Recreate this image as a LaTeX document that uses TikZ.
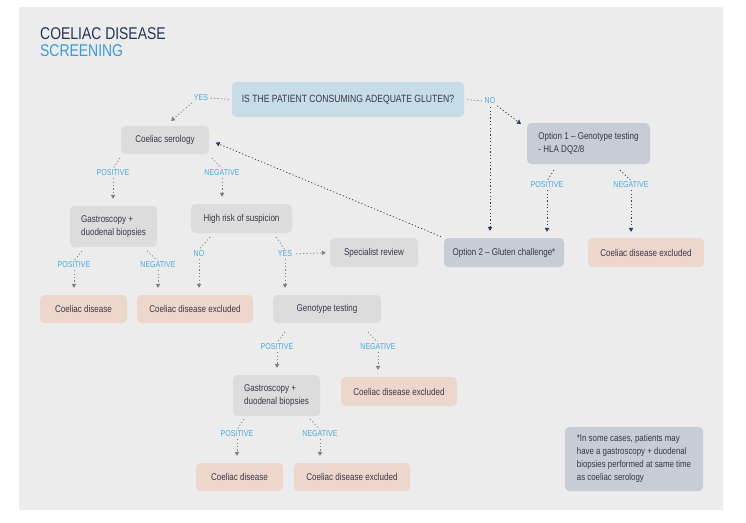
\documentclass[tikz,border=0pt]{standalone}
\usepackage{fontspec}
\setmainfont[FakeStretch=0.82]{Liberation Sans}
\usetikzlibrary{arrows.meta,calc}
\definecolor{panel}{HTML}{ECECEC}
\definecolor{boxgray}{HTML}{DCDCDC}
\definecolor{boxpink}{HTML}{EDD6CC}
\definecolor{boxblue}{HTML}{C6DDE8}
\definecolor{boxslate}{HTML}{C8CCD4}
\definecolor{txt}{HTML}{38384A}
\definecolor{lblue}{HTML}{4AA8DC}
\definecolor{lgray}{HTML}{808089}
\definecolor{navy}{HTML}{2D3C5A}
\definecolor{ttlnavy}{HTML}{253456}
\definecolor{ttlblue}{HTML}{3B9AD9}
\tikzset{
 bx/.style={rounded corners=4.5pt, inner sep=2pt, text=txt, font=\fontsize{9.8}{12.8}\selectfont, align=center},
 gbox/.style={bx, fill=boxgray},
 pbox/.style={bx, fill=boxpink},
 bbox/.style={bx, fill=boxblue},
 sbox/.style={bx, fill=boxslate},
 lab/.style={text=lblue, font=\fontsize{8.6}{10}\selectfont, inner sep=1pt},
 dl/.style={draw=lgray, line width=0.75pt, dash pattern=on 1.2pt off 2.2pt},
 dn/.style={dl, draw=navy},
 tip/.style={-{Triangle[width=4.5pt,length=4pt]}},
}
\begin{document}
\begin{tikzpicture}[x=1pt,y=-1pt]
\useasboundingbox (0,0) rectangle (746,522);
\fill[white] (0,0) rectangle (746,522);
\fill[panel] (19,7) rectangle (723,510);
% title
\node[anchor=base west, inner sep=0, text=ttlnavy, font=\fontsize{17}{20}\selectfont] (t1) at (40,39) {COELIAC DISEASE};
\node[anchor=base west, inner sep=0, text=ttlblue, font=\fontsize{17}{20}\selectfont] (t2) at (40,56) {SCREENING};
% boxes
\node[bbox, minimum width=232pt, minimum height=35pt, font=\fontsize{10.5}{13}\selectfont] (q) at (348,99.5) {IS THE PATIENT CONSUMING ADEQUATE GLUTEN?};
\node[gbox, minimum width=88pt, minimum height=28pt] (ser) at (165,140) {Coeliac serology};
\node[gbox, minimum width=87pt, minimum height=41pt, align=left] (g1) at (113.5,226.5) {Gastroscopy +\\duodenal biopsies};
\node[gbox, minimum width=101pt, minimum height=29pt] (hr) at (241.5,218.5) {High risk of suspicion};
\node[gbox, minimum width=88pt, minimum height=29pt] (sp) at (374,252.5) {Specialist review};
\node[pbox, minimum width=87pt, minimum height=28pt] (cd1) at (83.5,309) {Coeliac disease};
\node[pbox, minimum width=116pt, minimum height=28pt] (cde1) at (195,309) {Coeliac disease excluded};
\node[gbox, minimum width=108pt, minimum height=28pt] (gt) at (327,309) {Genotype testing};
\node[gbox, minimum width=87pt, minimum height=41pt, align=left] (g2) at (276.5,395.5) {Gastroscopy +\\duodenal biopsies};
\node[pbox, minimum width=116pt, minimum height=29pt] (cde2) at (399,391.5) {Coeliac disease excluded};
\node[pbox, minimum width=87pt, minimum height=28pt] (cd2) at (239.5,477) {Coeliac disease};
\node[pbox, minimum width=116pt, minimum height=28pt] (cde3) at (352,477) {Coeliac disease excluded};
\node[sbox, minimum width=123pt, minimum height=41pt, align=left] (o1) at (588.5,143.5) {Option 1 -- Genotype testing\\- HLA DQ2/8};
\node[sbox, minimum width=120pt, minimum height=29pt] (o2) at (504,252.5) {Option 2 -- Gluten challenge*};
\node[pbox, minimum width=116pt, minimum height=29pt] (cde4) at (646,252.5) {Coeliac disease excluded};
\node[sbox, minimum width=138pt, minimum height=64pt, align=left, font=\fontsize{9.6}{13}\selectfont] (fn) at (634,459) {*In some cases, patients may\\have a gastroscopy + duodenal\\biopsies performed at same time\\as coeliac serology};
% labels
\node[lab] (yes0) at (201,98) {YES};
\node[lab] (no0) at (490,101) {NO};
\node[lab] (pos1) at (113,173) {POSITIVE};
\node[lab] (neg1) at (222,173) {NEGATIVE};
\node[lab] (pos2) at (74,265) {POSITIVE};
\node[lab] (neg2) at (158,265) {NEGATIVE};
\node[lab] (no1) at (199,254) {NO};
\node[lab] (yes1) at (285,254) {YES};
\node[lab] (pos3) at (277,347) {POSITIVE};
\node[lab] (neg3) at (378,347) {NEGATIVE};
\node[lab] (pos4) at (237,434) {POSITIVE};
\node[lab] (neg4) at (320,434) {NEGATIVE};
\node[lab] (pos5) at (547,185) {POSITIVE};
\node[lab] (neg5) at (631,185) {NEGATIVE};
% start coordinates
\coordinate (s1a) at (120,158); \coordinate (s1b) at (212,158);
\coordinate (s2a) at (82,251);  \coordinate (s2b) at (147,251);
\coordinate (s3a) at (210,237); \coordinate (s3b) at (276,237);
\coordinate (s4a) at (285,332); \coordinate (s4b) at (368,332);
\coordinate (s5a) at (244,419); \coordinate (s5b) at (310,419);
\coordinate (s6a) at (554,170); \coordinate (s6b) at (620,170);
\coordinate (yesE) at (171,121);
\coordinate (noE) at (521,124);
% top connectors
\draw[dl, shorten <=3pt, shorten >=1pt] (q.west) -- (yes0.east);
\draw[dl, tip, shorten <=1pt] (yes0.south west) -- (yesE);
\draw[dl, shorten <=3pt, shorten >=1pt] (q.east) -- (no0.west);
\draw[dn, tip, shorten <=1pt] (no0.south east) -- (noE);
\draw[dn, tip, shorten <=2pt, shorten >=7pt] (no0.south) -- (no0.south |- o2.north);
\draw[dn, tip, shorten <=3pt, shorten >=7pt] (o2.north west) -- (ser.east);
% branch connectors
\foreach \s/\l/\t in {s1a/pos1/g1, s1b/neg1/hr, s2a/pos2/cd1, s2b/neg2/cde1, s3a/no1/cde1, s3b/yes1/gt, s4a/pos3/g2, s4b/neg3/cde2, s5a/pos4/cd2, s5b/neg4/cde3}{
  \draw[dl, shorten >=1pt] (\s) -- (\l.north);
  \draw[dl, tip, shorten <=1pt, shorten >=7pt] (\l.south) -- (\l.south |- \t.north);
}
\foreach \s/\l/\t in {s6a/pos5/o2, s6b/neg5/cde4}{
  \draw[dn, shorten >=1pt] (\s) -- (\l.north);
  \draw[dn, tip, shorten <=1pt, shorten >=6pt] (\l.south) -- (\l.south |- \t.north);
}
\draw[dl, tip, shorten <=3pt, shorten >=4pt] (yes1.east) -- (sp.west);
\end{tikzpicture}
\end{document}
